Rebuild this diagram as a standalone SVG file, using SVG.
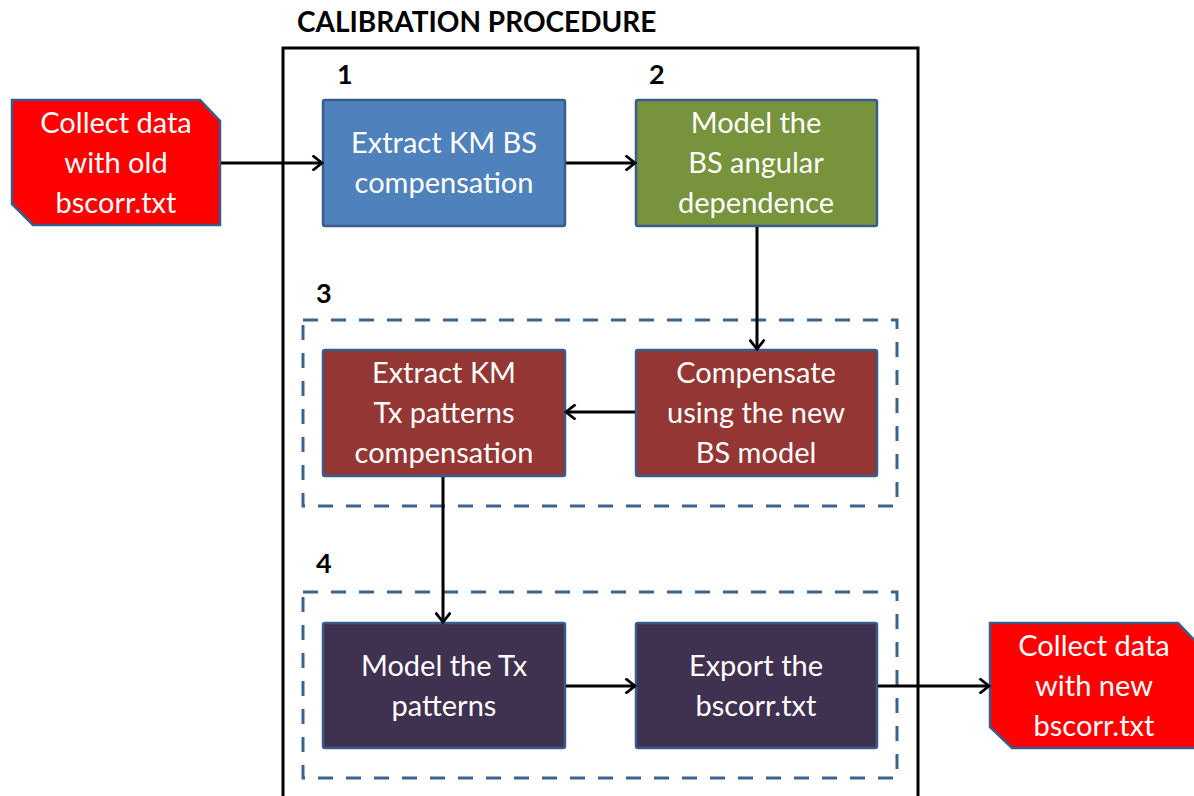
<svg xmlns="http://www.w3.org/2000/svg" width="1194" height="796" viewBox="0 0 1194 796">
<style>
.box{stroke:#385D8A;stroke-width:2.5}
.lbl{font-family:Lato,"Liberation Sans",sans-serif;font-size:29px;fill:#FFFFFF;text-anchor:middle}
.num{font-family:Lato,"Liberation Sans",sans-serif;font-size:27px;font-weight:bold;fill:#000}
.dash{fill:none;stroke:#3A6390;stroke-width:3;stroke-dasharray:15 13}
.con{fill:none;stroke:#000;stroke-width:3;marker-end:url(#arr)}
</style>
<defs>
<marker id="arr" markerWidth="14" markerHeight="16" refX="11" refY="8" orient="auto" markerUnits="userSpaceOnUse">
<path d="M1.5,0.5 L11,8 L1.5,15.5" fill="none" stroke="#000" stroke-width="2.8"/>
</marker>
</defs>
<rect width="1194" height="796" fill="#FFFFFF"/>
<g id="title"><text x="297" y="32" font-family="Lato,'Liberation Sans',sans-serif" font-size="28" font-weight="bold" fill="#000">CALIBRATION PROCEDURE</text></g>
<g id="container"><rect x="283" y="48" width="635" height="780" fill="none" stroke="#000" stroke-width="3"/></g>
<g id="group3"><rect class="dash" x="303" y="320" width="594" height="186"/><text class="num" x="316" y="303">3</text></g>
<g id="group4"><rect class="dash" x="303" y="592" width="594" height="186"/><text class="num" x="316" y="573">4</text></g>
<g id="label1"><text class="num" x="337" y="84">1</text></g>
<g id="label2"><text class="num" x="649" y="84">2</text></g>
<g id="input">
<path class="box" fill="#FF0000" d="M12,100 H200 L220,121 V225 H33 L12,204 Z"/>
<text class="lbl" x="116" y="133">Collect data</text>
<text class="lbl" x="116" y="173">with old</text>
<text class="lbl" x="116" y="213">bscorr.txt</text>
</g>
<g id="node1">
<rect class="box" fill="#4F81BD" x="323" y="100" width="242" height="126" rx="2"/>
<text class="lbl" x="444" y="153">Extract KM BS</text>
<text class="lbl" x="444" y="193">compensation</text>
</g>
<g id="node2">
<rect class="box" fill="#77933C" x="636" y="100" width="241" height="126" rx="2"/>
<text class="lbl" x="756" y="133">Model the</text>
<text class="lbl" x="756" y="173">BS angular</text>
<text class="lbl" x="756" y="213">dependence</text>
</g>
<g id="node3b">
<rect class="box" fill="#943634" x="636" y="350" width="241" height="126" rx="2"/>
<text class="lbl" x="756" y="383">Compensate</text>
<text class="lbl" x="756" y="423">using the new</text>
<text class="lbl" x="756" y="463">BS model</text>
</g>
<g id="node3a">
<rect class="box" fill="#943634" x="323" y="350" width="242" height="126" rx="2"/>
<text class="lbl" x="444" y="383">Extract KM</text>
<text class="lbl" x="444" y="423">Tx patterns</text>
<text class="lbl" x="444" y="463">compensation</text>
</g>
<g id="node4a">
<rect class="box" fill="#403151" x="323" y="623" width="242" height="125" rx="2"/>
<text class="lbl" x="444" y="676">Model the Tx</text>
<text class="lbl" x="444" y="716">patterns</text>
</g>
<g id="node4b">
<rect class="box" fill="#403151" x="636" y="623" width="241" height="125" rx="2"/>
<text class="lbl" x="756" y="676">Export the</text>
<text class="lbl" x="756" y="716">bscorr.txt</text>
</g>
<g id="output">
<path class="box" fill="#FF0000" d="M990,623 H1178 L1198,644 V748 H1012 L990,727 Z"/>
<text class="lbl" x="1094" y="656">Collect data</text>
<text class="lbl" x="1094" y="696">with new</text>
<text class="lbl" x="1094" y="736">bscorr.txt</text>
</g>
<g id="connectors">
<line class="con" x1="221" y1="163" x2="322" y2="163"/>
<line class="con" x1="566" y1="163" x2="635" y2="163"/>
<line class="con" x1="757" y1="227" x2="757" y2="349"/>
<line class="con" x1="635" y1="412" x2="566" y2="412"/>
<line class="con" x1="443" y1="477" x2="443" y2="622"/>
<line class="con" x1="566" y1="686" x2="635" y2="686"/>
<line class="con" x1="878" y1="686" x2="989" y2="686"/>
</g>
</svg>
